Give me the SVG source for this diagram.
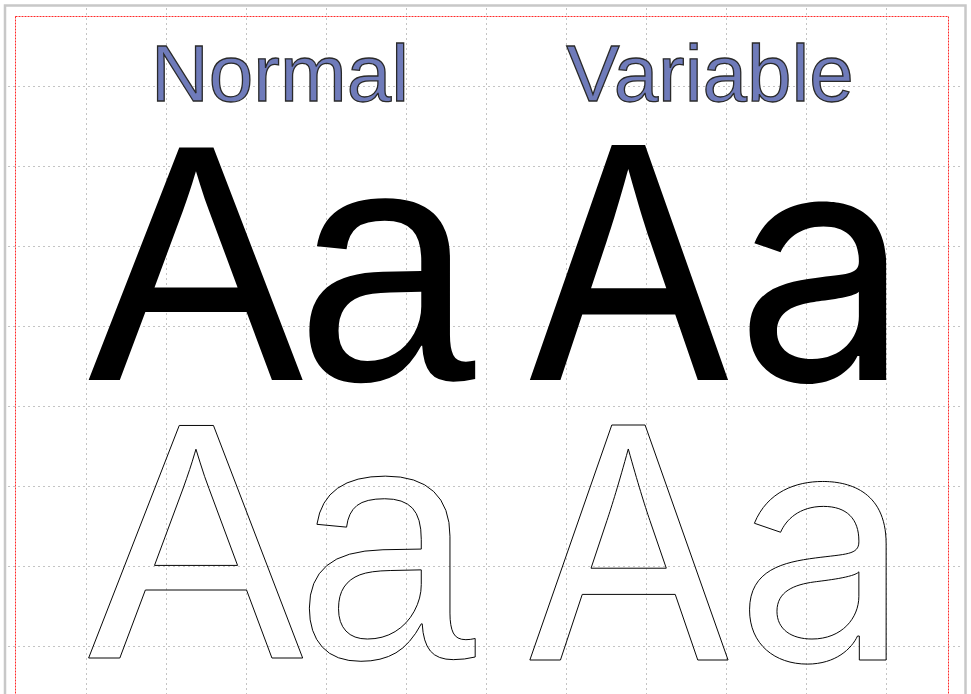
<svg xmlns="http://www.w3.org/2000/svg" width="971" height="694" viewBox="0 0 971 694">
<style>
.grid line{stroke:#c4c4c4;stroke-width:1;stroke-dasharray:2 3}
.lbl{font-size:80px;fill:#6f7bba;stroke:#2a2a2a;stroke-width:1.3}
.arial{font-family:"Liberation Sans",Arial,sans-serif}
.var{font-family:Inter,"Open Sans",sans-serif}
.bign{font-size:338px;letter-spacing:-8px}
.bigv{font-size:323px}
.solid{fill:#000}
.outline{fill:none;stroke:#000;stroke-width:1}
</style>
<rect x="0" y="0" width="971" height="694" fill="#fff"/>
<rect x="5" y="5.5" width="960.5" height="700" fill="none" stroke="#c8c8c8" stroke-width="2.5"/>
<g class="grid">
<line x1="86.5" y1="8" x2="86.5" y2="694"/>
<line x1="166.5" y1="8" x2="166.5" y2="694"/>
<line x1="246.5" y1="8" x2="246.5" y2="694"/>
<line x1="326.5" y1="8" x2="326.5" y2="694"/>
<line x1="406.5" y1="8" x2="406.5" y2="694"/>
<line x1="486.5" y1="8" x2="486.5" y2="694"/>
<line x1="566.5" y1="8" x2="566.5" y2="694"/>
<line x1="646.5" y1="8" x2="646.5" y2="694"/>
<line x1="726.5" y1="8" x2="726.5" y2="694"/>
<line x1="806.5" y1="8" x2="806.5" y2="694"/>
<line x1="886.5" y1="8" x2="886.5" y2="694"/>
<line x1="8" y1="86.5" x2="962" y2="86.5"/>
<line x1="8" y1="166.5" x2="962" y2="166.5"/>
<line x1="8" y1="246.5" x2="962" y2="246.5"/>
<line x1="8" y1="326.5" x2="962" y2="326.5"/>
<line x1="8" y1="406.5" x2="962" y2="406.5"/>
<line x1="8" y1="486.5" x2="962" y2="486.5"/>
<line x1="8" y1="566.5" x2="962" y2="566.5"/>
<line x1="8" y1="646.5" x2="962" y2="646.5"/>
</g>
<rect x="15.5" y="16.5" width="933" height="700" fill="none" stroke="#ff2a2a" stroke-width="1" stroke-dasharray="2 1"/>
<g id="label-normal"><text class="lbl arial" x="280" y="101" text-anchor="middle">Normal</text></g>
<g id="label-variable"><text class="lbl arial" x="710" y="101" text-anchor="middle">Variable</text></g>
<g id="normal-solid" transform="translate(88 380) scale(0.955 1)"><text class="arial bign solid" x="0" y="0">Aa</text></g>
<g id="normal-outline" transform="translate(88 658) scale(0.955 1)"><text class="arial bign outline" x="0" y="0">Aa</text></g>
<g id="variable-solid" transform="translate(522 380) scale(0.96 1)"><text class="var bigv solid" x="0" y="0">Aa</text></g>
<g id="variable-outline" transform="translate(522 660) scale(0.96 1)"><text class="var bigv outline" x="0" y="0">Aa</text></g>
</svg>
